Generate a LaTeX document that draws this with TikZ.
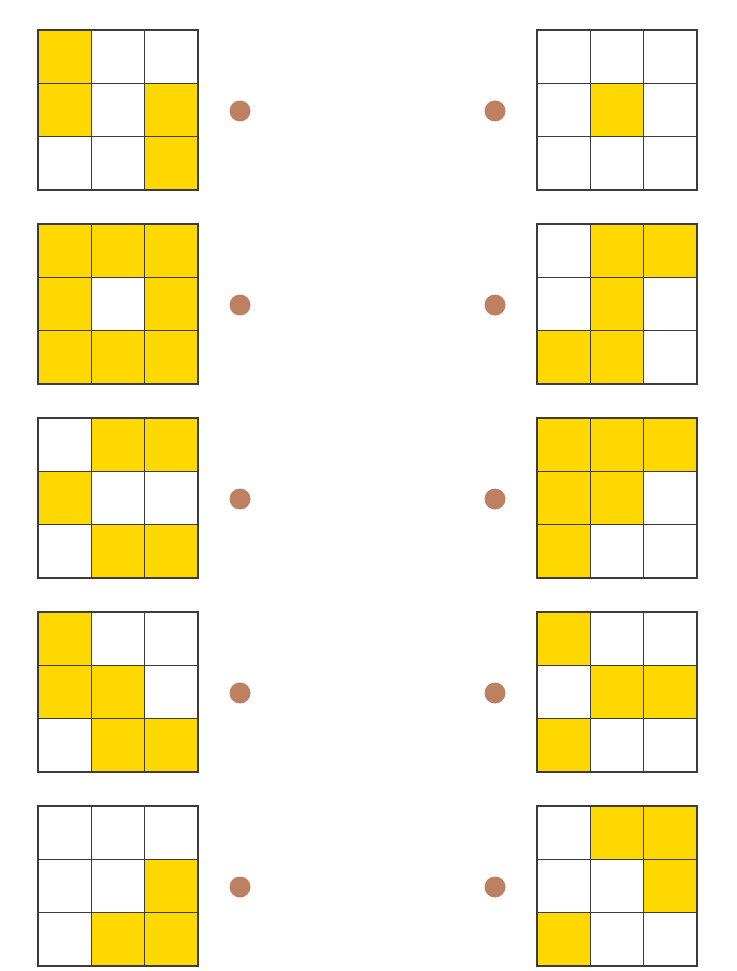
\documentclass[tikz,border=0pt]{standalone}
\usepackage{tikz}
\definecolor{cellyellow}{RGB}{255,216,0}
\definecolor{dotbrown}{RGB}{190,128,98}
\definecolor{gridgray}{RGB}{60,60,60}
\tikzset{
  browndot/.style={circle, fill=dotbrown, inner sep=0pt, minimum size=21pt},
  gridline/.style={gridgray, line width=1.2pt, line cap=rect}
}
\begin{document}
\begin{tikzpicture}[x=1pt,y=-1pt]
\useasboundingbox (0,0) rectangle (736,971);
\def\s{53.33}
\foreach \gx/\gy/\cells in {
  38/30/{0/0,0/1,2/1,2/2},
  537/30/{1/1},
  38/224/{0/0,1/0,2/0,0/1,2/1,0/2,1/2,2/2},
  537/224/{1/0,2/0,1/1,0/2,1/2},
  38/418/{1/0,2/0,0/1,1/2,2/2},
  537/418/{0/0,1/0,2/0,0/1,1/1,0/2},
  38/612/{0/0,0/1,1/1,1/2,2/2},
  537/612/{0/0,1/1,2/1,0/2},
  38/806/{2/1,1/2,2/2},
  537/806/{1/0,2/0,2/1,0/2}}
{
  \foreach \c/\r in \cells \fill[cellyellow] (\gx+\c*\s,\gy+\r*\s) rectangle ++(\s,\s);
  \foreach \i in {0,...,3} {
    \draw[gridline] (\gx+\i*\s,\gy) -- ++(0,3*\s);
    \draw[gridline] (\gx,\gy+\i*\s) -- ++(3*\s,0);
  }
}
\foreach \gy [count=\n] in {30,224,418,612,806} {
  \node[browndot] (dl\n) at (240,\gy+81) {};
  \node[browndot] (dr\n) at (495,\gy+81) {};
}
\end{tikzpicture}
\end{document}
